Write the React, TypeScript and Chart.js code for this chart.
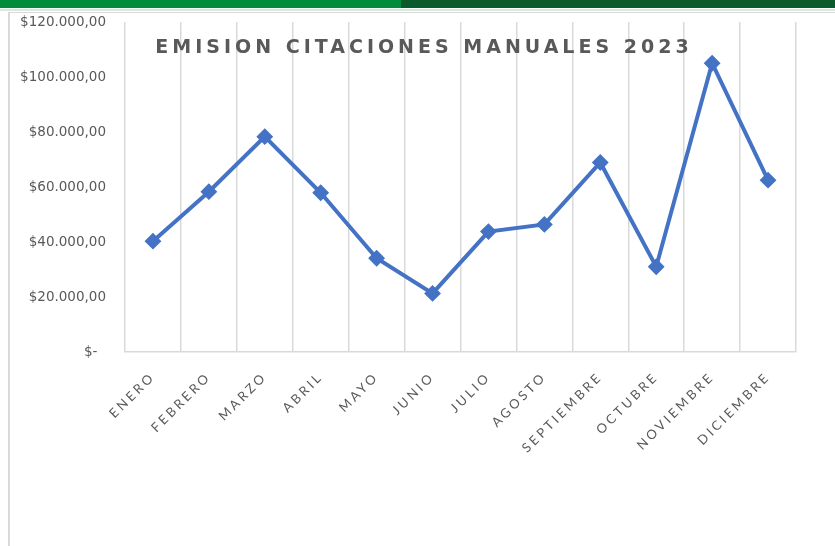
import React, { useEffect, useRef } from "react";
import { Chart, registerables, CategoryScale } from "chart.js";

Chart.register(...registerables);

const categories = [
  "ENERO", "FEBRERO", "MARZO", "ABRIL", "MAYO", "JUNIO",
  "JULIO", "AGOSTO", "SEPTIEMBRE", "OCTUBRE", "NOVIEMBRE", "DICIEMBRE",
];
const citaciones = [40300, 58300, 78300, 57900, 34100, 21300, 43800, 46400, 68900, 31000, 105000, 62500];
const yTickValues = [0, 20000, 40000, 60000, 80000, 100000, 120000];
const chartTitle = "EMISION CITACIONES MANUALES 2023";

const TEXT_GRAY = "#595959";
const GRID_GRAY = "#d9d9d9";
const LINE_BLUE = "#4472C4";

function formatPeso(v: number): string {
  if (v === 0) return "$-  ";
  const s = Math.round(v).toString().replace(/\B(?=(\d{3})+(?!\d))/g, ".");
  return "$" + s + ",00";
}

class SpacedCategory extends CategoryScale {
  static id = "spacedCategory";
  static defaults = CategoryScale.defaults;
  drawLabels(area: any) {
    const ctx: any = (this as any).ctx;
    ctx.save();
    ctx.letterSpacing = "3px";
    super.drawLabels(area);
    ctx.restore();
  }
}
Chart.register(SpacedCategory as any);

const titlePlugin = {
  id: "insideTitle",
  beforeDatasetsDraw(chart: any) {
    const ctx = chart.ctx;
    ctx.save();
    ctx.font = "bold 19px 'DejaVu Sans'";
    ctx.fillStyle = TEXT_GRAY;
    (ctx as any).letterSpacing = "4px";
    ctx.textAlign = "center";
    ctx.textBaseline = "middle";
    ctx.fillText(chartTitle, 424, 48);
    ctx.restore();
  },
};

export default function App() {
  const ref = useRef<HTMLCanvasElement | null>(null);

  useEffect(() => {
    document.body.style.margin = "0";
    const canvas = ref.current!;
    const chart = new Chart(canvas, {
      type: "line",
      data: {
        labels: categories,
        datasets: [
          {
            data: citaciones,
            borderColor: LINE_BLUE,
            backgroundColor: LINE_BLUE,
            borderWidth: 4,
            pointStyle: "rectRot",
            pointRadius: 7,
            pointBorderWidth: 2,
            pointBackgroundColor: LINE_BLUE,
            pointBorderColor: LINE_BLUE,
            tension: 0,
          },
        ],
      },
      options: {
        animation: false,
        responsive: false,
        maintainAspectRatio: false,
        layout: { padding: { left: 0, right: 39, top: 22, bottom: 0 } },
        plugins: {
          legend: { display: false },
          title: { display: false },
          tooltip: { enabled: false },
        },
        scales: {
          x: {
            type: "spacedCategory" as any,
            offset: true,
            grid: {
              display: true,
              offset: true,
              color: GRID_GRAY,
              lineWidth: 1.5,
              drawTicks: false,
            },
            border: { display: true, color: GRID_GRAY, width: 1.5 },
            ticks: {
              color: TEXT_GRAY,
              font: { family: "Lato", size: 13 },
              minRotation: 45,
              maxRotation: 45,
              padding: 17,
              autoSkip: false,
            },
            afterFit(scale: any) {
              scale.height = 194;
            },
          },
          y: {
            min: 0,
            max: 120000,
            grid: { display: false },
            border: { display: false },
            afterBuildTicks(scale: any) {
              scale.ticks = yTickValues.map((v) => ({ value: v }));
            },
            ticks: {
              color: TEXT_GRAY,
              font: { family: "DejaVu Sans", size: 13.5 },
              padding: 11,
              callback: (v: any) => formatPeso(Number(v)),
            },
            afterFit(scale: any) {
              scale.width = 125;
            },
          },
        },
      },
      plugins: [titlePlugin],
    });
    return () => chart.destroy();
  }, []);

  return (
    <div style={{ position: "relative", width: 835, height: 546, background: "#fff", overflow: "hidden" }}>
      <div style={{ position: "absolute", left: 0, top: 0, width: 401, height: 8, background: "#008C3A" }} />
      <div style={{ position: "absolute", left: 401, top: 0, width: 434, height: 8, background: "#0B5A2B" }} />
      <div style={{ position: "absolute", left: 0, top: 9, width: 835, height: 2, background: "#d5ecdc" }} />
      <div
        style={{
          position: "absolute",
          left: 8,
          top: 12,
          width: 835,
          height: 540,
          borderLeft: "2px solid #d9d9d9",
          borderTop: "1px solid #d9d9d9",
          boxSizing: "border-box",
        }}
      />
      <canvas ref={ref} width={835} height={546} style={{ position: "absolute", left: 0, top: 0 }} />
    </div>
  );
}
